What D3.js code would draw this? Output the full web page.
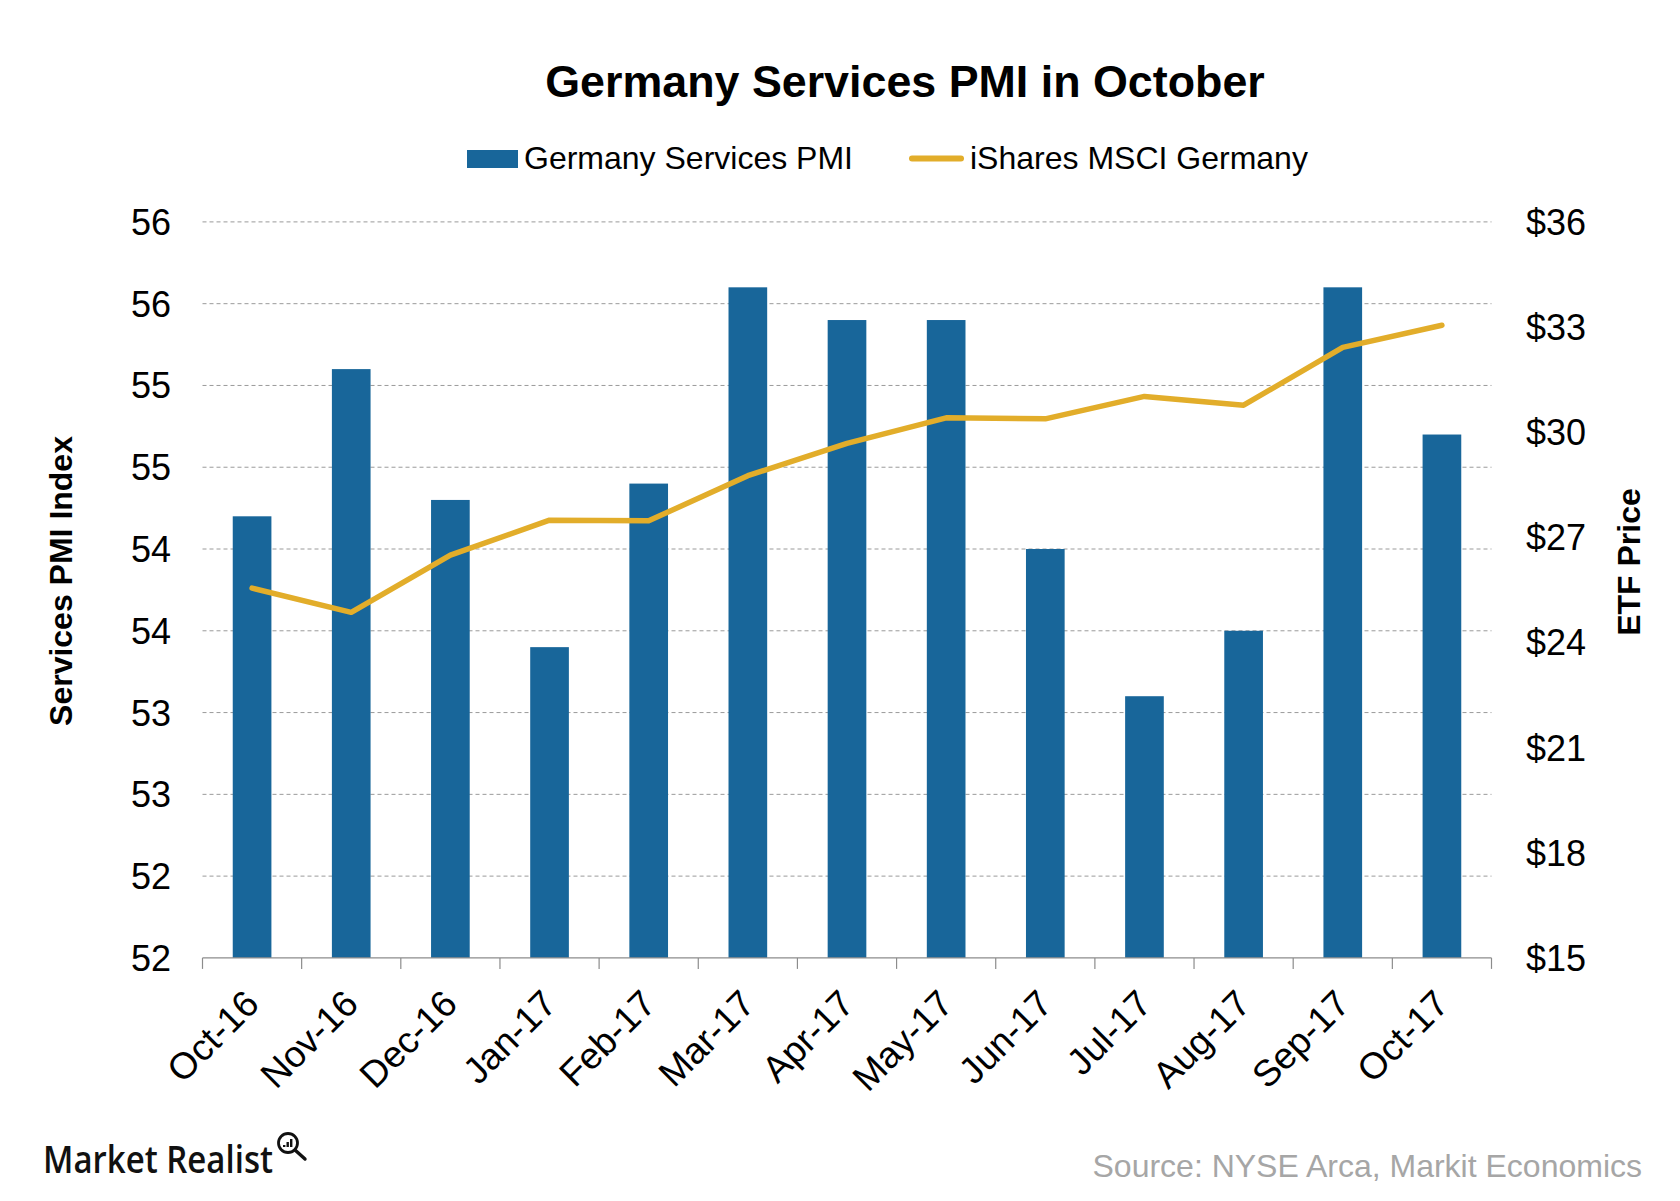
<!DOCTYPE html>
<html>
<head>
<meta charset="utf-8">
<script src="https://cdn.jsdelivr.net/npm/d3@7"></script>
<style>
  html, body { margin: 0; padding: 0; background: #fff; }
  svg { display: block; }
  text { font-family: "Liberation Sans", Arial, sans-serif; }
</style>
</head>
<body>
<script>
const categories = ["Oct-16","Nov-16","Dec-16","Jan-17","Feb-17","Mar-17","Apr-17","May-17","Jun-17","Jul-17","Aug-17","Sep-17","Oct-17"];
const pmiValues = [54.2, 55.1, 54.3, 53.4, 54.4, 55.6, 55.4, 55.4, 54.0, 53.1, 53.5, 55.6, 54.7];
const etfValues = [25.55, 24.86, 26.49, 27.49, 27.47, 28.76, 29.68, 30.41, 30.38, 31.02, 30.77, 32.42, 33.05];
const leftTicks = [51.5, 52, 52.5, 53, 53.5, 54, 54.5, 55, 55.5, 56];
const rightTicks = [15, 18, 21, 24, 27, 30, 33, 36];

const W = 1680, H = 1201;
const m = { left: 202.5, right: 1491.5, top: 221.9, bottom: 957.9 };
const barColor = "#18669a", lineColor = "#e2ad2a";

const svg = d3.select("body").append("svg").attr("width", W).attr("height", H);

const x = d3.scaleBand().domain(categories).range([m.left, m.right]).paddingInner(0.61).paddingOuter(0.305);
const xb = d3.scaleBand().domain(categories).range([m.left, m.right]);
const yL = d3.scaleLinear().domain([51.5, 56]).range([m.bottom, m.top]);
const yR = d3.scaleLinear().domain([15, 36]).range([m.bottom, m.top]);

// gridlines
svg.append("g").selectAll("line").data(leftTicks.slice(1)).join("line")
  .attr("x1", m.left).attr("x2", m.right)
  .attr("y1", d => yL(d)).attr("y2", d => yL(d))
  .attr("stroke", "#9a9a9a").attr("stroke-width", 1).attr("stroke-dasharray", "4,3");

// bars
svg.append("g").selectAll("rect").data(categories).join("rect")
  .attr("x", d => x(d)).attr("width", x.bandwidth())
  .attr("y", (d, i) => yL(pmiValues[i]))
  .attr("height", (d, i) => m.bottom - yL(pmiValues[i]))
  .attr("fill", barColor);

// line
const line = d3.line().x((d, i) => xb(categories[i]) + xb.bandwidth() / 2).y(d => yR(d));
svg.append("path").datum(etfValues).attr("d", line)
  .attr("fill", "none").attr("stroke", lineColor).attr("stroke-width", 5.5)
  .attr("stroke-linejoin", "round").attr("stroke-linecap", "round");

// x axis
const gx = svg.append("g").attr("transform", `translate(0,${m.bottom})`);
gx.append("line").attr("x1", m.left).attr("x2", m.right).attr("stroke", "#8c8c8c").attr("stroke-width", 1.2);
const bounds = categories.map(c => xb(c)).concat([m.right]);
gx.selectAll("line.tk").data(bounds).join("line").attr("class", "tk")
  .attr("x1", d => d).attr("x2", d => d).attr("y1", 0).attr("y2", 11)
  .attr("stroke", "#8c8c8c").attr("stroke-width", 1.2);
gx.selectAll("text").data(categories).join("text")
  .attr("transform", d => `translate(${xb(d) + xb.bandwidth() / 2 + 9},${48}) rotate(-45)`)
  .attr("text-anchor", "end").attr("font-size", 37).attr("fill", "#000").text(d => d);

// left axis labels
const fmtL = v => String(Math.round(v + 1e-9));
svg.append("g").selectAll("text").data(leftTicks).join("text")
  .attr("x", 171).attr("y", d => yL(d)).attr("dy", "0.36em")
  .attr("text-anchor", "end").attr("font-size", 36).attr("fill", "#000")
  .text(d => fmtL(d));

// right axis labels
svg.append("g").selectAll("text").data(rightTicks).join("text")
  .attr("x", 1526).attr("y", d => yR(d)).attr("dy", "0.36em")
  .attr("text-anchor", "start").attr("font-size", 36).attr("fill", "#000")
  .text(d => "$" + d);

// axis titles
svg.append("text").attr("transform", `translate(72,581) rotate(-90)`)
  .attr("text-anchor", "middle").attr("font-size", 32).attr("font-weight", "bold").text("Services PMI Index");
svg.append("text").attr("transform", `translate(1640,562) rotate(-90)`)
  .attr("text-anchor", "middle").attr("font-size", 32).attr("font-weight", "bold").text("ETF Price");

// title
svg.append("text").attr("x", 905).attr("y", 97).attr("text-anchor", "middle")
  .attr("font-size", 44.8).attr("font-weight", "bold").text("Germany Services PMI in October");

// legend
svg.append("rect").attr("x", 467).attr("y", 150).attr("width", 51).attr("height", 18).attr("fill", barColor);
svg.append("text").attr("x", 524).attr("y", 169).attr("font-size", 32).text("Germany Services PMI");
svg.append("line").attr("x1", 912).attr("x2", 961).attr("y1", 158.5).attr("y2", 158.5)
  .attr("stroke", lineColor).attr("stroke-width", 6).attr("stroke-linecap", "round");
svg.append("text").attr("x", 970).attr("y", 169).attr("font-size", 32).text("iShares MSCI Germany");

// source
svg.append("text").attr("x", 1642).attr("y", 1177).attr("text-anchor", "end")
  .attr("font-size", 32).attr("fill", "#a6a6a6").text("Source: NYSE Arca, Markit Economics");

// logo
svg.append("text").attr("x", 43).attr("y", 1173).style("font-family", "'Open Sans', sans-serif").attr("font-size", 37)
  .attr("font-weight", 600)
  .attr("textLength", 230).attr("lengthAdjust", "spacingAndGlyphs").attr("fill", "#111").text("Market Realist");
const lg = svg.append("g").attr("transform", "translate(288,1143)");
lg.append("circle").attr("r", 9.5).attr("fill", "none").attr("stroke", "#111").attr("stroke-width", 2.8);
lg.append("line").attr("x1", 7).attr("y1", 7).attr("x2", 17).attr("y2", 16).attr("stroke", "#111").attr("stroke-width", 3.4).attr("stroke-linecap", "round");
[[-5,2],[-1.5,-1],[2,-4]].forEach(b => lg.append("rect").attr("x", b[0]).attr("y", b[1]).attr("width", 2.4).attr("height", 4 - b[1]).attr("fill", "#111"));
</script>
</body>
</html>
